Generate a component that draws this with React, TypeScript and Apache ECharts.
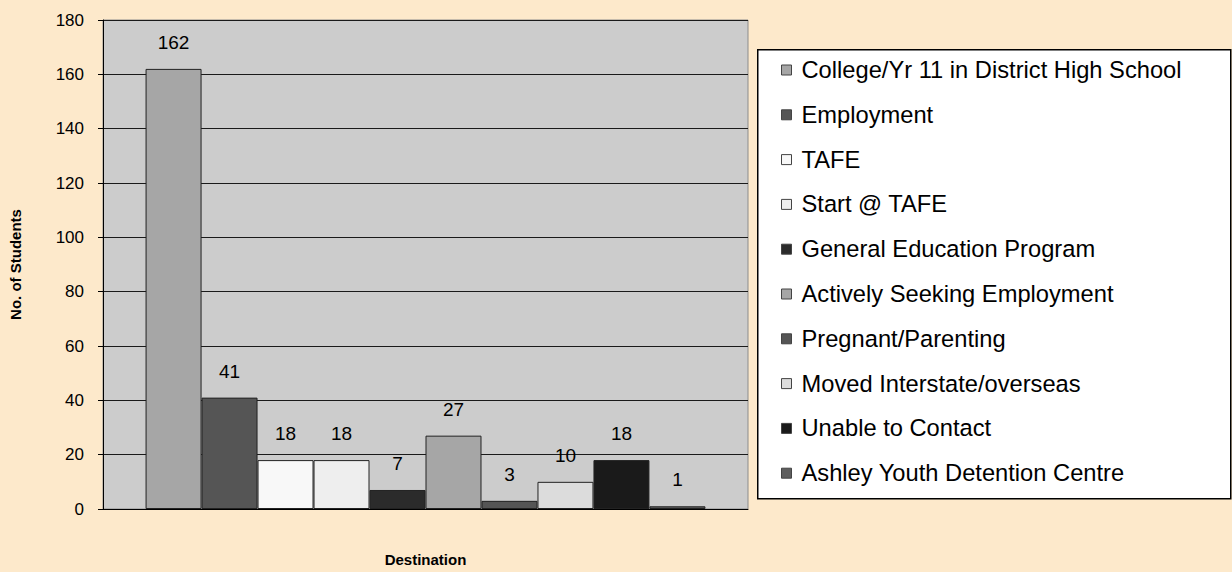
import React, { useEffect, useRef } from "react";
import * as echarts from "echarts";

const categories = [
  "College/Yr 11 in District High School",
  "Employment",
  "TAFE",
  "Start @ TAFE",
  "General Education Program",
  "Actively Seeking Employment",
  "Pregnant/Parenting",
  "Moved Interstate/overseas",
  "Unable to Contact",
  "Ashley Youth Detention Centre",
];
const values = [162, 41, 18, 18, 7, 27, 3, 10, 18, 1];
const colors = [
  "#a6a6a6",
  "#555555",
  "#f8f8f8",
  "#eeeeee",
  "#2b2b2b",
  "#a6a6a6",
  "#555555",
  "#dcdcdc",
  "#1a1a1a",
  "#5e5e5e",
];
const yTicks = { min: 0, max: 180, interval: 20 };

const FONT = "'Liberation Sans', Arial, sans-serif";

export default function App() {
  const ref = useRef<HTMLDivElement>(null);
  useEffect(() => {
    if (!ref.current) return;
    const chart = echarts.init(ref.current, undefined, { renderer: "svg" });
    const series = categories.map((name, i) => ({
      name,
      type: "bar",
      data: [values[i]],
      barGap: "0%",
      barCategoryGap: "13.2%",
      itemStyle: { color: colors[i], borderColor: "#222", borderWidth: 1 },
      label: {
        show: true,
        position: "top",
        distance: 17,
        color: "#000",
        fontSize: 19,
        fontFamily: FONT,
      },
    }));
    chart.setOption({
      animation: false,
      backgroundColor: "#fde9cb",
      textStyle: { fontFamily: FONT },
      grid: {
        left: 97,
        right: 484,
        top: 20,
        bottom: 55,
        show: true,
        backgroundColor: "#cccccc",
        borderColor: "#8c8c8c",
        borderWidth: 1,
      },
      graphic: [
        {
          type: "rect",
          left: 757,
          top: 49,
          shape: { width: 473, height: 449 },
          style: { fill: "#ffffff", stroke: "#000", lineWidth: 1.5 },
          z: 0,
        },
      ],
      legend: {
        orient: "vertical",
        left: 781,
        top: 53,
        padding: 0,
        itemWidth: 10,
        itemHeight: 10,
        itemGap: 10.8,
        icon: "rect",
        itemStyle: { borderColor: "#444", borderWidth: 1 },
        textStyle: {
          fontSize: 23.7,
          lineHeight: 24,
          color: "#000",
          fontFamily: FONT,
          padding: [0, 0, 10, 5],
        },
        data: categories,
        z: 5,
      },
      xAxis: {
        type: "category",
        data: [""],
        name: "Destination",
        nameLocation: "middle",
        nameGap: 43,
        nameTextStyle: { fontSize: 15, fontWeight: "bold", color: "#000", fontFamily: FONT },
        axisLine: { show: true, lineStyle: { color: "#000", width: 1 } },
        axisTick: { show: false },
        axisLabel: { show: false },
      },
      yAxis: {
        type: "value",
        min: yTicks.min,
        max: yTicks.max,
        interval: yTicks.interval,
        name: "No. of Students",
        nameLocation: "middle",
        nameRotate: 90,
        nameGap: 80,
        nameTextStyle: { fontSize: 15, fontWeight: "bold", color: "#000", fontFamily: FONT },
        axisLine: { show: true, lineStyle: { color: "#000", width: 1 } },
        axisTick: { show: true, length: 5, lineStyle: { color: "#000" } },
        axisLabel: { fontSize: 17, color: "#000", margin: 19, fontFamily: FONT },
        splitLine: { show: true, lineStyle: { color: "#1a1a1a", width: 1 } },
      },
      series,
    });
    return () => chart.dispose();
  }, []);
  return (
    <div
      ref={ref}
      style={{ position: "fixed", left: 0, top: 0, width: 1232, height: 572 }}
    />
  );
}
